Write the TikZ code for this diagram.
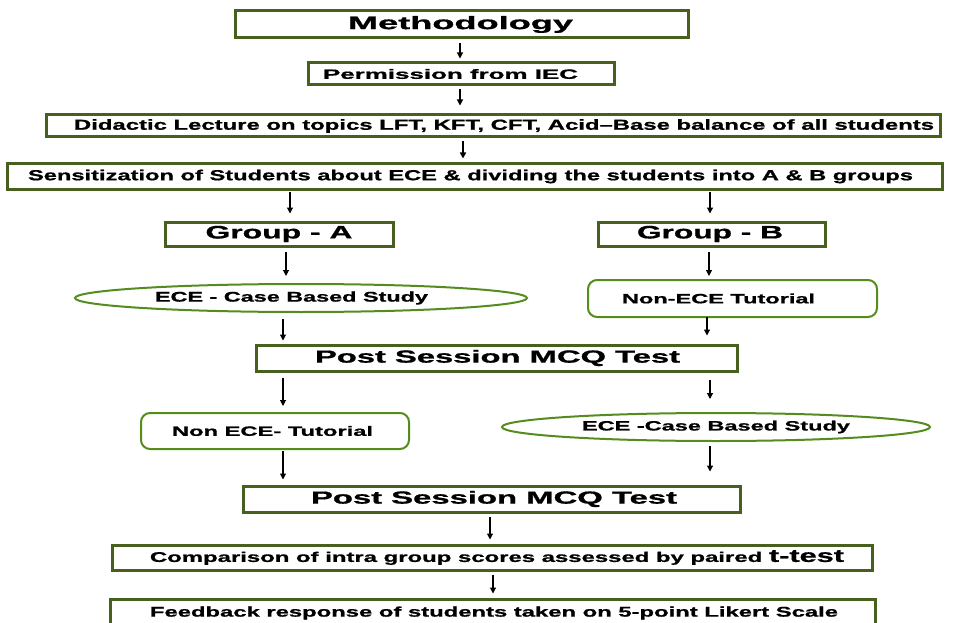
\documentclass[tikz,border=0pt]{standalone}
\usepackage{fontspec}
\setmainfont[BoldFeatures={FakeBold=0.8}]{Liberation Sans}
\usetikzlibrary{shapes.geometric,arrows.meta}
\definecolor{boxgreen}{RGB}{72,96,30}
\definecolor{ovgreen}{RGB}{84,140,30}
\newcommand\stt[4]{\makebox[0pt]{\hspace*{#2}\raisebox{-1.5pt}{\resizebox{#1}{\height}{\fontsize{#3}{#3}\selectfont\bfseries #4}}}}
\tikzset{
  box/.style={draw=boxgreen, line width=3pt, rectangle, inner sep=0pt},
  oval/.style={draw=ovgreen, line width=2pt, ellipse, inner sep=0pt},
  rbox/.style={draw=ovgreen, line width=2pt, rounded corners=9pt, rectangle, inner sep=0pt},
  arr/.style={-{Triangle[width=6pt,length=6pt]}, line width=1.1pt},
}
\begin{document}
\begin{tikzpicture}[x=1pt,y=-1pt]
\clip (0,0) rectangle (956,623);
\fill[white] (0,0) rectangle (956,623);
\node[box, minimum width=453pt, minimum height=27pt] (meth) at (461.5,24.5) {\stt{225pt}{-2pt}{18}{Methodology}};
\node[box, minimum width=306pt, minimum height=22pt] (perm) at (461,74) {\stt{255pt}{-21pt}{13.5}{Permission from IEC}};
\node[box, minimum width=894pt, minimum height=22pt] (did) at (493,126) {\stt{860pt}{22pt}{14.5}{Didactic Lecture on topics LFT, KFT, CFT, Acid–Base balance of all students}};
\node[box, minimum width=935pt, minimum height=25pt] (sens) at (474.5,176.5) {\stt{885pt}{-8pt}{14.5}{Sensitization of Students about ECE \& dividing the students into A \& B groups}};
\node[box, minimum width=228pt, minimum height=24pt] (ga) at (279,234) {\stt{147pt}{0pt}{18}{Group - A}};
\node[box, minimum width=227pt, minimum height=24pt] (gb) at (711.5,234) {\stt{146pt}{-3pt}{18}{Group - B}};
\node[oval, minimum width=452pt, minimum height=28pt] (e1) at (301,298) {\stt{273pt}{-19pt}{14}{ECE - Case Based Study}};
\node[rbox, minimum width=289pt, minimum height=37pt] (nt1) at (732.5,298.5) {\stt{193pt}{-28pt}{13.5}{Non-ECE Tutorial}};
\node[box, minimum width=481pt, minimum height=26pt] (p1) at (496.5,358) {\stt{365pt}{2pt}{17.5}{Post Session MCQ Test}};
\node[rbox, minimum width=268pt, minimum height=36pt] (nt2) at (275,431) {\stt{201pt}{-5pt}{13.5}{Non ECE- Tutorial}};
\node[oval, minimum width=428pt, minimum height=28pt] (e2) at (716,427) {\stt{268pt}{0pt}{13.5}{ECE -Case Based Study}};
\node[box, minimum width=497pt, minimum height=26pt] (p2) at (491.5,499) {\stt{366pt}{5pt}{17.5}{Post Session MCQ Test}};
\node[box, minimum width=760pt, minimum height=25pt] (cmp) at (492,557.5) {\stt{694pt}{10pt}{14}{Comparison of intra group scores assessed by paired {\fontsize{18}{18}\selectfont t-test}}};
\node[box, minimum width=765pt, minimum height=28pt] (fb) at (492.5,613) {\stt{688pt}{3pt}{14}{Feedback response of students taken on 5-point Likert Scale}};
\draw[arr] ([xshift=-1.5pt,yshift=-4pt]meth.south) -- ([xshift=-1pt,yshift=3pt]perm.north);
\draw[arr] ([xshift=-1pt,yshift=-3pt]perm.south) -- ([xshift=-33pt,yshift=8pt]did.north);
\draw[arr, line width=1.5pt] ([xshift=-30pt,yshift=-3pt]did.south) -- ([xshift=-11.5pt,yshift=4pt]sens.north);
\draw[arr] ([xshift=-184.5pt,yshift=-1pt]sens.south) -- ([xshift=11pt,yshift=7pt]ga.north);
\draw[arr] ([xshift=235.5pt,yshift=-1pt]sens.south) -- ([xshift=-1.5pt,yshift=7pt]gb.north);
\draw[arr] ([xshift=7pt,yshift=-4pt]ga.south) -- ([xshift=-15pt,yshift=7pt]e1.north);
\draw[arr] ([xshift=-2.5pt,yshift=-4pt]gb.south) -- ([xshift=-23.5pt,yshift=3pt]nt1.north);
\draw[arr] ([xshift=-18pt,yshift=-6pt]e1.south) -- ([xshift=-213.5pt,yshift=3pt]p1.north);
\draw[arr] ([xshift=-25.5pt,yshift=1pt]nt1.south) -- ([xshift=210.5pt,yshift=8pt]p1.north);
\draw[arr] ([xshift=-213.5pt,yshift=-5pt]p1.south) -- ([xshift=8pt,yshift=6pt]nt2.north);
\draw[arr] ([xshift=213.5pt,yshift=-7pt]p1.south) -- ([xshift=-6pt,yshift=13pt]e2.north);
\draw[arr] ([xshift=8pt,yshift=-1pt]nt2.south) -- ([xshift=-208.5pt,yshift=5pt]p2.north);
\draw[arr] ([xshift=-6pt,yshift=-4pt]e2.south) -- ([xshift=218.5pt,yshift=13pt]p2.north);
\draw[arr] ([xshift=-1.5pt,yshift=-3pt]p2.south) -- ([xshift=-2pt,yshift=4pt]cmp.north);
\draw[arr] ([xshift=1pt,yshift=-3pt]cmp.south) -- ([xshift=0.5pt,yshift=4pt]fb.north);
\end{tikzpicture}
\end{document}
